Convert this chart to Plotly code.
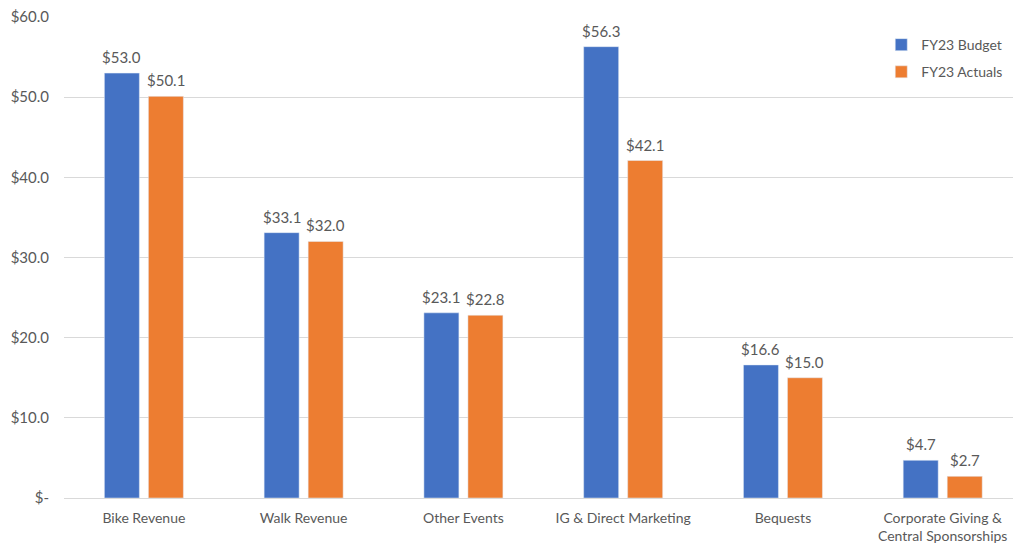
import plotly.graph_objects as go

categories = ["Bike Revenue", "Walk Revenue", "Other Events", "IG & Direct Marketing",
              "Bequests", "Corporate Giving &<br>Central Sponsorships"]
budget = [53.0, 33.1, 23.1, 56.3, 16.6, 4.7]
actuals = [50.1, 32.0, 22.8, 42.1, 15.0, 2.7]
y_ticks = [0, 10, 20, 30, 40, 50, 60]
y_tick_labels = ["$-", "$10.0", "$20.0", "$30.0", "$40.0", "$50.0", "$60.0"]

font_family = "Lato, 'Open Sans', sans-serif"
grey = "#595959"
fs = 15

fig = go.Figure()
fig.add_trace(go.Bar(name="FY23 Budget", x=categories, y=budget,
                     marker_color="#4472C4", legendgroup="b"))
fig.add_trace(go.Bar(name="FY23 Actuals", x=categories, y=actuals,
                     marker_color="#ED7D31", legendgroup="a"))

# value labels above bars (shifted to each bar of the group)
for series, shift in ((budget, -22), (actuals, 22)):
    for cat, v in zip(categories, series):
        fig.add_annotation(x=cat, y=v, text=f"${v:.1f}", showarrow=False,
                           xanchor="center", yanchor="bottom", xshift=shift, yshift=5,
                           font=dict(size=fs, color=grey, family=font_family))

fig.update_layout(
    width=1013, height=544,
    margin=dict(l=64, r=0, t=17, b=46, autoexpand=False),
    paper_bgcolor="white", plot_bgcolor="white",
    barmode="group", bargap=0.449, bargroupgap=0.205,
    font=dict(family=font_family, color=grey, size=fs),
    legend=dict(x=0.995, y=0.975, xanchor="right", yanchor="top",
                font=dict(size=14, color=grey), itemwidth=30,
                traceorder="grouped", tracegroupgap=6,
                bgcolor="rgba(0,0,0,0)"),
    showlegend=True,
    hovermode=False,
)
fig.update_xaxes(range=[-0.5, 5.44], showgrid=False, showline=False, automargin=False,
                 ticks="", ticklabelstandoff=10, tickfont=dict(size=14, color=grey))
fig.update_yaxes(range=[0, 60.001], tickvals=y_ticks, ticktext=y_tick_labels,
                 showgrid=True, gridcolor="#D9D9D9", gridwidth=1, automargin=False,
                 zeroline=True, zerolinecolor="#D9D9D9", zerolinewidth=1,
                 ticks="", ticklabelstandoff=14,
                 tickfont=dict(size=fs, color=grey))

fig.write_html("out.html", config={"displayModeBar": False},
               post_script="document.body.style.margin='0px';")
